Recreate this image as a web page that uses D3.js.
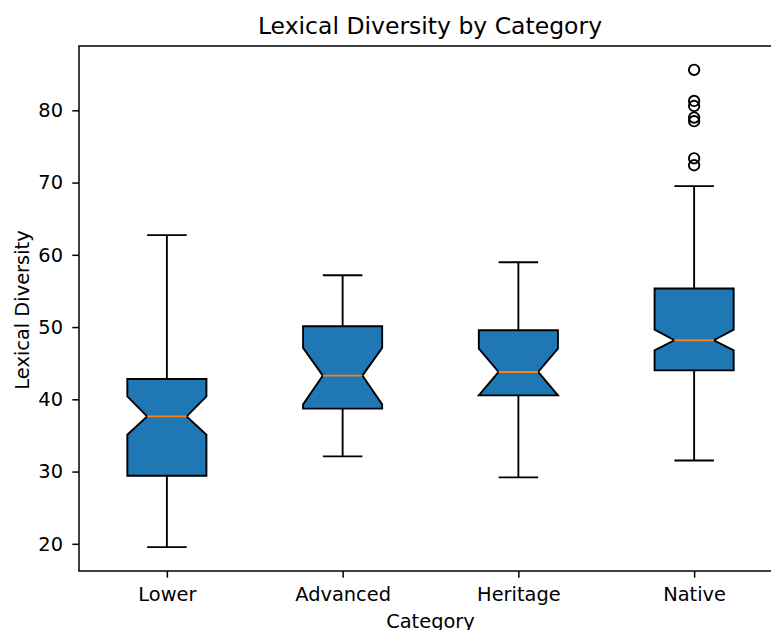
<!DOCTYPE html>
<html>
<head>
<meta charset="utf-8">
<script src="https://cdn.jsdelivr.net/npm/d3@7"></script>
<style>
  html, body { margin: 0; padding: 0; background: #fff; }
  svg { display: block; font-family: "DejaVu Sans", sans-serif; }
</style>
</head>
<body>
<svg id="chart" width="771" height="630"></svg>
<script>
// ---- data ----
const categories = ["Lower", "Advanced", "Heritage", "Native"];
const whiskerLow  = [19.54, 32.10, 29.19, 31.54];
const q1          = [29.42, 38.71, 40.55, 44.01];
const notchLow    = [35.10, 39.30, 40.55, 46.78];
const median      = [37.64, 43.28, 43.79, 48.17];
const notchHigh   = [40.41, 47.12, 47.02, 49.65];
const q3          = [42.82, 50.11, 49.56, 55.33];
const whiskerHigh = [62.72, 57.18, 58.98, 69.51];
const outliers    = [[], [], [], [85.6, 81.3, 80.6, 79.0, 78.5, 73.35, 72.4]];
const yTicks = [20, 30, 40, 50, 60, 70, 80];

const chartTitle = "Lexical Diversity by Category";
const xLabel = "Category";
const yLabel = "Lexical Diversity";

// ---- layout ----
const svg = d3.select("#chart");
const mLeft = 79, mRight = 782, mTop = 46, mBottom = 571;
const boxWidth = 0.45;            // in data units
const fill = "#1f77b4", medColor = "#ff7f0e";
const lw = 1.9;

const allVals = whiskerLow.concat(whiskerHigh, outliers.flat());
const vmin = d3.min(allVals), vmax = d3.max(allVals);
const pad = (vmax - vmin) * 0.05;

const x = d3.scaleLinear().domain([0.5, 4.5]).range([mLeft, mRight]);
const y = d3.scaleLinear().domain([vmin - pad, vmax + pad]).range([mBottom, mTop]);

const g = svg.append("g");

// boxes
categories.forEach((c, i) => {
  const pos = i + 1;
  const bl = x(pos - boxWidth / 2), br = x(pos + boxWidth / 2);
  const cl = x(pos - boxWidth / 4), cr = x(pos + boxWidth / 4);
  const cg = g.append("g");

  // whiskers
  cg.append("line").attr("x1", x(pos)).attr("x2", x(pos))
    .attr("y1", y(q1[i])).attr("y2", y(whiskerLow[i]))
    .attr("stroke", "#000").attr("stroke-width", lw);
  cg.append("line").attr("x1", x(pos)).attr("x2", x(pos))
    .attr("y1", y(q3[i])).attr("y2", y(whiskerHigh[i]))
    .attr("stroke", "#000").attr("stroke-width", lw);
  // caps
  [whiskerLow[i], whiskerHigh[i]].forEach(v => {
    cg.append("line").attr("x1", cl).attr("x2", cr)
      .attr("y1", y(v)).attr("y2", y(v))
      .attr("stroke", "#000").attr("stroke-width", lw);
  });

  // notched box
  const pts = [
    [bl, y(q1[i])], [br, y(q1[i])], [br, y(notchLow[i])], [cr, y(median[i])],
    [br, y(notchHigh[i])], [br, y(q3[i])], [bl, y(q3[i])], [bl, y(notchHigh[i])],
    [cl, y(median[i])], [bl, y(notchLow[i])]
  ];
  cg.append("path")
    .attr("d", d3.line()(pts) + "Z")
    .attr("fill", fill).attr("stroke", "#000")
    .attr("stroke-width", lw).attr("stroke-linejoin", "miter");

  // median
  cg.append("line").attr("x1", cl).attr("x2", cr)
    .attr("y1", y(median[i])).attr("y2", y(median[i]))
    .attr("stroke", medColor).attr("stroke-width", lw);

  // fliers
  cg.selectAll("circle.flier").data(outliers[i]).enter()
    .append("circle").attr("class", "flier")
    .attr("cx", x(pos)).attr("cy", d => y(d)).attr("r", 5.2)
    .attr("fill", "none").attr("stroke", "#000").attr("stroke-width", 1.9);
});

// spines
const spineW = 1.5;
svg.append("rect").attr("x", mLeft).attr("y", mTop)
  .attr("width", mRight - mLeft).attr("height", mBottom - mTop)
  .attr("fill", "none").attr("stroke", "#000").attr("stroke-width", spineW);

// axes
const fontSize = 19.4;
const xAxis = svg.append("g").attr("transform", `translate(0,${mBottom})`)
  .call(d3.axisBottom(x).tickValues([1, 2, 3, 4]).tickFormat((d, i) => categories[i])
    .tickSize(6.7).tickPadding(9.3));
const yAxis = svg.append("g").attr("transform", `translate(${mLeft},0)`)
  .call(d3.axisLeft(y).tickValues(yTicks).tickFormat(d3.format("d"))
    .tickSize(6.7).tickPadding(9.3));
[xAxis, yAxis].forEach(a => {
  a.select(".domain").remove();
  a.selectAll(".tick line").attr("stroke", "#000").attr("stroke-width", spineW);
  a.selectAll(".tick text").attr("fill", "#000")
    .style("font-family", "'DejaVu Sans', sans-serif").style("font-size", fontSize + "px");
});

// labels
svg.append("text").attr("x", 430).attr("y", 33.5)
  .attr("text-anchor", "middle").attr("fill", "#000")
  .style("font-size", "23.5px").text(chartTitle);
svg.append("text").attr("x", (x(2) + x(3)) / 2).attr("y", 628)
  .attr("text-anchor", "middle").attr("fill", "#000")
  .style("font-size", fontSize + "px").text(xLabel);
svg.append("text")
  .attr("transform", `translate(28.8,310) rotate(-90)`)
  .attr("text-anchor", "middle").attr("fill", "#000")
  .style("font-size", fontSize + "px").text(yLabel);
</script>
</body>
</html>
